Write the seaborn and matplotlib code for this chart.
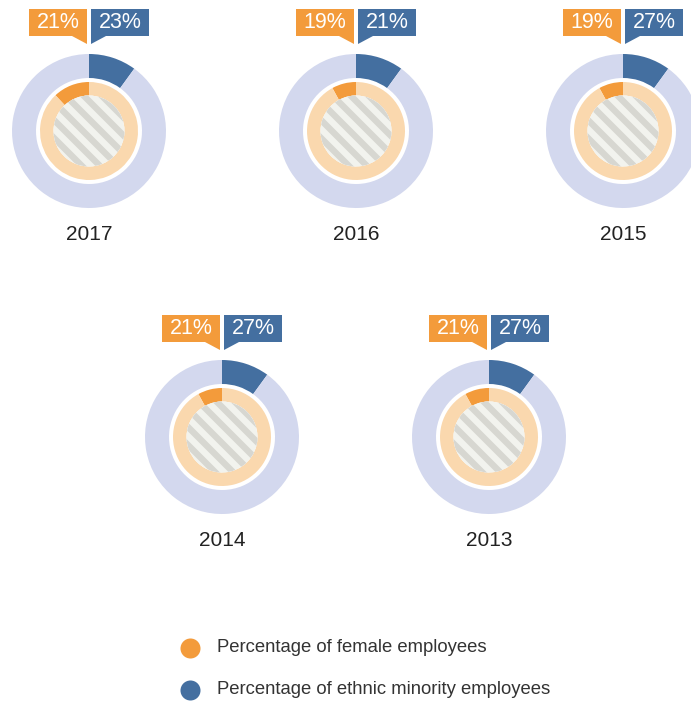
import matplotlib
matplotlib.use("Agg")
import matplotlib.pyplot as plt
from matplotlib.patches import Circle, Rectangle, Polygon
import numpy as np
import seaborn as sns

# data
years = ["2017", "2016", "2015", "2014", "2013"]
female_pct = [21, 19, 19, 21, 21]
minority_pct = [23, 21, 27, 27, 27]
# arc share actually drawn in the rings (as shown in the picture)
female_arc = [0.12, 0.08, 0.08, 0.08, 0.08]
minority_arc = [0.10, 0.10, 0.10, 0.10, 0.10]
legend_labels = ["Percentage of female employees",
                 "Percentage of ethnic minority employees"]

ORANGE = "#F39B3B"
ORANGE_LT = "#FAD8AE"
BLUE = "#446FA0"
BLUE_LT = "#D3D8EE"
DISK = "#F2F3EE"
STRIPE = "#D7D7D1"

sns.set_theme(style="white")
plt.rcParams["font.family"] = ["Liberation Sans", "DejaVu Sans"]

W, H = 691, 702
fig = plt.figure(figsize=(W / 100, H / 100), dpi=100)
ax = fig.add_axes([0, 0, 1, 1])

# donut centres in pixel coords (y from top)
centres = [(89, 131), (356, 131), (623, 131), (222, 437), (489, 437)]

for i, yr in enumerate(years):
    cx, cy_top = centres[i]
    cy = H - cy_top

    ax.pie([minority_arc[i], 1 - minority_arc[i]], colors=[BLUE, BLUE_LT],
           center=(cx, cy), radius=77, startangle=90, counterclock=False,
           wedgeprops=dict(width=24, linewidth=0), frame=True)
    ax.pie([female_arc[i], 1 - female_arc[i]], colors=[ORANGE, ORANGE_LT],
           center=(cx, cy), radius=49, startangle=90, counterclock=True,
           wedgeprops=dict(width=13.5, linewidth=0), frame=True)

    # striped centre disk
    disk = Circle((cx, cy), 35.5, facecolor=DISK, linewidth=0)
    ax.add_patch(disk)
    for off in -6 + np.arange(-5, 6) * 18:
        xs = np.array([cx - 60, cx + 60])
        ys = cy - (xs - cx) + off
        ln, = ax.plot(xs, ys, color=STRIPE, lw=4.6, solid_capstyle="butt")
        ln.set_clip_path(disk)

    # callout boxes
    top = cy + 122
    bot = cy + 95
    ax.add_patch(Rectangle((cx - 60, bot), 58, top - bot, color=ORANGE, lw=0))
    ax.add_patch(Polygon([(cx - 17, bot), (cx - 2, bot), (cx - 2, bot - 8)],
                         closed=True, color=ORANGE, lw=0))
    ax.text(cx - 31, (top + bot) / 2, f"{female_pct[i]}%", color="white",
            fontsize=15.5, ha="center", va="center")

    ax.add_patch(Rectangle((cx + 2, bot), 58, top - bot, color=BLUE, lw=0))
    ax.add_patch(Polygon([(cx + 2, bot), (cx + 17, bot), (cx + 2, bot - 8)],
                         closed=True, color=BLUE, lw=0))
    ax.text(cx + 31, (top + bot) / 2, f"{minority_pct[i]}%", color="white",
            fontsize=15.5, ha="center", va="center")

    ax.text(cx, cy - 104, yr, color="#222222", fontsize=15,
            ha="center", va="center")

# legend
for j, (lab, col) in enumerate(zip(legend_labels, [ORANGE, BLUE])):
    ly = H - (648 + 42 * j)
    ax.scatter([190], [ly], s=20 ** 2 * 0.52, color=col, linewidths=0)
    ax.text(217, ly, lab, color="#333333", fontsize=13.3, ha="left", va="center")

ax.set_xlim(0, W)
ax.set_ylim(0, H)
ax.set_aspect("equal")
ax.axis("off")

fig.savefig("out.png", dpi=100, facecolor="white")
